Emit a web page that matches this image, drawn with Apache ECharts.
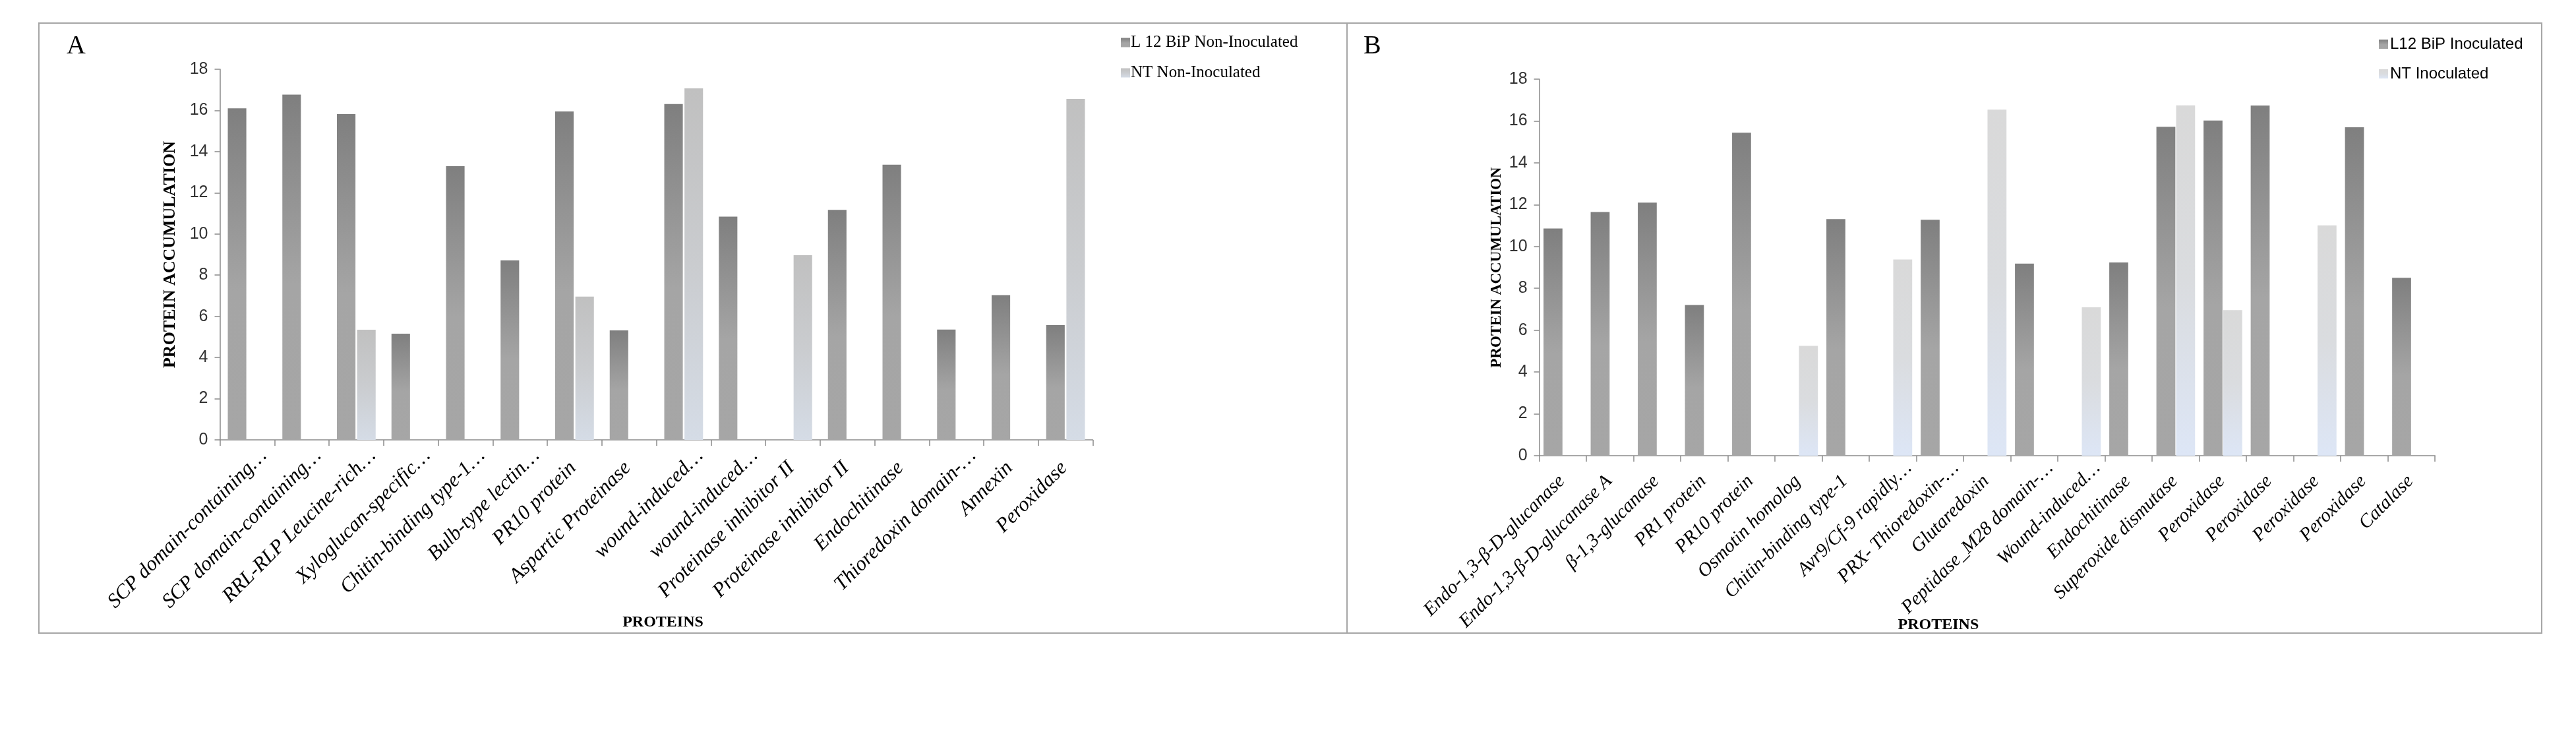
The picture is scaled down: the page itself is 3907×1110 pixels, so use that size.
<!DOCTYPE html>
<html>
<head>
<meta charset="utf-8">
<script src="https://cdn.jsdelivr.net/npm/echarts@6/dist/echarts.min.js"></script>
<style>
html,body{margin:0;padding:0;background:#fff;}
#main{width:3907px;height:1110px;}
</style>
</head>
<body>
<div id="main"></div>
<script>
// ---------- Data ----------
const catsA = ['SCP domain-containing…', 'SCP domain-containing…', 'RRL-RLP Leucine-rich…', 'Xyloglucan-specific…',
  'Chitin-binding type-1…', 'Bulb-type lectin…', 'PR10 protein', 'Aspartic Proteinase', 'wound-induced…',
  'wound-induced…', 'Proteinase inhibitor II', 'Proteinase inhibitor II', 'Endochitinase', 'Thioredoxin domain-…',
  'Annexin', 'Peroxidase'];
const valsA_L12 = [16.1, 16.77, 15.82, 5.16, 13.29, 8.72, 15.95, 5.32, 16.31, 10.84, null, 11.17, 13.36, 5.36, 7.03, 5.57];
const valsA_NT  = [null, null, 5.35, null, null, null, 6.96, null, 17.07, null, 8.97, null, null, null, null, 16.56];

const catsB = ['Endo-1,3-β-D-glucanase', 'Endo-1,3-β-D-glucanase A', 'β-1,3-glucanase', 'PR1 protein', 'PR10 protein',
  'Osmotin homolog', 'Chitin-binding type-1', 'Avr9/Cf-9 rapidly…', 'PRX- Thioredoxin-…', 'Glutaredoxin',
  'Peptidase_M28 domain-…', 'Wound-induced…', 'Endochitinase', 'Superoxide dismutase', 'Peroxidase', 'Peroxidase',
  'Peroxidase', 'Peroxidase', 'Catalase'];
const valsB_L12 = [10.86, 11.65, 12.1, 7.2, 15.44, null, 11.31, null, 11.28, null, 9.18, null, 9.24, 15.72, 16.02, 16.74, null, 15.7, 8.5];
const valsB_NT  = [null, null, null, null, null, 5.25, null, 9.38, null, 16.54, null, 7.09, null, 16.75, 6.96, null, 11.01, null, null];

const yTicks = {min: 0, max: 18, interval: 2};

// ---------- Styles ----------
const SERIF = "'Liberation Serif', 'Times New Roman', serif";
const NARROW = "'Liberation Sans Narrow', 'Liberation Sans', Arial, sans-serif";
const AXIS_GRAY = '#8a8a8a';

function grad(stops) {
  return new echarts.graphic.LinearGradient(0, 0, 0, 1, stops.map(s => ({offset: s[0], color: s[1]})));
}
const darkFill = () => grad([[0, '#7f7f7f'], [0.55, '#a5a5a5'], [1, '#a6a6a6']]);
const lightFillA = () => grad([[0, '#c0c0c0'], [0.5, '#cacccf'], [1, '#d5dce6']]);
const lightFillB = () => grad([[0, '#d9d9d9'], [0.5, '#dadcdf'], [1, '#dde6f6']]);

// truncated labels (ending with an ellipsis) sit a little further along their slant, as in the original
function catLabel(size, margin, padNormal, padTrunc) {
  return {
    interval: 0, rotate: 45, margin: margin,
    formatter: v => (v.endsWith('…') ? '{t|' + v + '}' : '{n|' + v + '}'),
    rich: {
      t: {fontFamily: SERIF, fontStyle: 'italic', fontSize: size, color: '#000', padding: padTrunc},
      n: {fontFamily: SERIF, fontStyle: 'italic', fontSize: size, color: '#000', padding: padNormal}
    }
  };
}

function yAxisCfg(gridIndex, nameSize, nameGap) {
  return {
    type: 'value', gridIndex: gridIndex, min: yTicks.min, max: yTicks.max, interval: yTicks.interval,
    name: 'PROTEIN ACCUMULATION', nameLocation: 'middle', nameGap: nameGap, nameRotate: 90,
    nameMoveOverlap: false,
    nameTextStyle: {fontFamily: SERIF, fontWeight: 'bold', fontSize: nameSize, color: '#000'},
    axisLine: {show: true, lineStyle: {color: AXIS_GRAY, width: 1.5}},
    axisTick: {show: true, length: 8, lineStyle: {color: AXIS_GRAY, width: 1.5}},
    splitLine: {show: false},
    axisLabel: {fontFamily: NARROW, fontSize: 25, color: '#333', margin: 18}
  };
}

function xAxisCfg(gridIndex, cats, nameGap, namePad, labelCfg) {
  return {
    type: 'category', gridIndex: gridIndex, data: cats,
    name: 'PROTEINS', nameLocation: 'middle', nameGap: nameGap, nameMoveOverlap: false,
    nameTextStyle: {fontFamily: SERIF, fontWeight: 'bold', fontSize: 24, color: '#000', padding: namePad},
    axisLine: {show: true, lineStyle: {color: AXIS_GRAY, width: 1.5}},
    axisTick: {show: true, interval: 0, length: 9, lineStyle: {color: AXIS_GRAY, width: 1.5}},
    axisLabel: labelCfg
  };
}

const chart = echarts.init(document.getElementById('main'));
chart.setOption({
  backgroundColor: '#fff',
  animation: false,
  grid: [
    {left: 333.5, top: 105, width: 1324, height: 562},
    {left: 2334.6, top: 120, width: 1358.6, height: 571}
  ],
  xAxis: [
    xAxisCfg(0, catsA, 265, [0, 0, 0, 20], catLabel(31, 36, [0, 3, 0, 0], [12, -29, 0, 0])),
    xAxisCfg(1, catsB, 245, [0, 148, 0, 0], catLabel(29, 33, [0, 2, 0, 0], [8, -30, 0, 0]))
  ],
  yAxis: [
    yAxisCfg(0, 26, 62),
    yAxisCfg(1, 23, 53)
  ],
  legend: [
    {
      data: ['L 12 BiP Non-Inoculated', 'NT Non-Inoculated'],
      orient: 'vertical', left: 1695, top: 47, itemWidth: 14, itemHeight: 14, itemGap: 21,
      icon: 'rect', textStyle: {fontFamily: SERIF, fontSize: 25, color: '#000', padding: [0, 0, 0, -4]}
    },
    {
      data: ['L12 BiP Inoculated', 'NT Inoculated'],
      orient: 'vertical', left: 3603, top: 50, itemWidth: 14, itemHeight: 14, itemGap: 21,
      icon: 'rect', textStyle: {fontFamily: NARROW, fontSize: 24, color: '#000', padding: [0, 0, 0, -2]}
    }
  ],
  series: [
    {name: 'L 12 BiP Non-Inoculated', type: 'bar', xAxisIndex: 0, yAxisIndex: 0, data: valsA_L12,
      itemStyle: {color: darkFill()}, barGap: '9%', barCategoryGap: '29%'},
    {name: 'NT Non-Inoculated', type: 'bar', xAxisIndex: 0, yAxisIndex: 0, data: valsA_NT,
      itemStyle: {color: lightFillA()}, barGap: '9%', barCategoryGap: '29%'},
    {name: 'L12 BiP Inoculated', type: 'bar', xAxisIndex: 1, yAxisIndex: 1, data: valsB_L12,
      itemStyle: {color: darkFill()}, barGap: '4%', barCategoryGap: '18%'},
    {name: 'NT Inoculated', type: 'bar', xAxisIndex: 1, yAxisIndex: 1, data: valsB_NT,
      itemStyle: {color: lightFillB()}, barGap: '4%', barCategoryGap: '18%'}
  ],
  graphic: [
    {type: 'rect', shape: {x: 59, y: 35, width: 1984, height: 925}, style: {fill: 'none', stroke: '#a6a6a6', lineWidth: 2}, silent: true},
    {type: 'rect', shape: {x: 2043, y: 35, width: 1812, height: 925}, style: {fill: 'none', stroke: '#a6a6a6', lineWidth: 2}, silent: true},
    {type: 'text', left: 101, top: 50, style: {text: 'A', fontFamily: SERIF, fontSize: 40, fill: '#000'}},
    {type: 'text', left: 2068, top: 50, style: {text: 'B', fontFamily: SERIF, fontSize: 40, fill: '#000'}}
  ]
});
</script>
</body>
</html>
